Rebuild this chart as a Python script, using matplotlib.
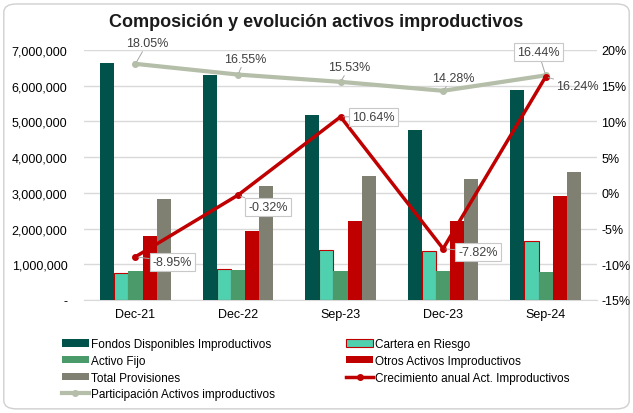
import numpy as np
import matplotlib
matplotlib.use("Agg")
import matplotlib.pyplot as plt
import matplotlib.ticker as ticker
from matplotlib.patches import FancyBboxPatch

plt.rcParams["font.family"] = ["Liberation Sans", "DejaVu Sans"]

# datos
periodos = ["Dec-21", "Dec-22", "Sep-23", "Dec-23", "Sep-24"]
fondos = [6640000, 6300000, 5190000, 4770000, 5880000]
cartera = [750000, 880000, 1400000, 1360000, 1650000]
activo_fijo = [800000, 840000, 800000, 810000, 780000]
otros = [1780000, 1930000, 2220000, 2200000, 2920000]
provisiones = [2840000, 3190000, 3480000, 3400000, 3580000]
participacion = [18.05, 16.55, 15.53, 14.28, 16.44]
crecimiento = [-8.95, -0.32, 10.64, -7.82, 16.24]

# offsets de etiquetas (pixeles)
off_part = [(12, 21), (7, 16), (9, 15), (10, 13), (-7, 23)]
off_crec = [(37, -5), (30, -12), (33, 0), (35, -3), (32, -9)]

fig = plt.figure(figsize=(6.33, 4.14), dpi=100)
fig.patches.append(FancyBboxPatch((0.006, 0.01), 0.988, 0.978, boxstyle="round,pad=0,rounding_size=0.02",
                                  transform=fig.transFigure, facecolor="white", edgecolor="#d0d0d0",
                                  linewidth=1, zorder=-10))
ax = fig.add_axes([0.133, 0.273, 0.81, 0.604])
ax.patch.set_alpha(0)

x = np.arange(len(periodos))
w = 0.138
series = [
    (fondos, "#00524a", "none", "Fondos Disponibles Improductivos"),
    (cartera, "#4fd1b0", "#c00000", "Cartera en Riesgo"),
    (activo_fijo, "#4a9a6a", "none", "Activo Fijo"),
    (otros, "#c00000", "none", "Otros Activos Improductivos"),
    (provisiones, "#7f7f72", "none", "Total Provisiones"),
]
handles = {}
for i, (vals, col, ec, lab) in enumerate(series):
    b = ax.bar(x + (i - 2) * w, vals, width=w, color=col, edgecolor=ec, linewidth=0.8, label=lab, zorder=3)
    handles[lab] = b

ax.set_xlim(-0.5, 4.5)
ax.set_ylim(0, 7000000)
ax.set_xticks(x)
ax.set_xticklabels(periodos, fontsize=9)
ax.yaxis.set_major_locator(ticker.MultipleLocator(1000000))
ax.yaxis.set_major_formatter(ticker.FuncFormatter(lambda v, p: "-" if v == 0 else "{:,.0f}".format(v)))
ax.tick_params(axis="y", labelsize=9, length=0, pad=12)
ax.tick_params(axis="x", length=0, pad=6)
ax.grid(axis="y", color="#d9d9d9", linewidth=1, zorder=0)
for s in ["top", "left", "right"]:
    ax.spines[s].set_visible(False)
ax.spines["bottom"].set_color("#d9d9d9")

ax2 = ax.twinx()
ax2.set_ylim(-15, 20)
ax2.yaxis.set_major_locator(ticker.MultipleLocator(5))
ax2.yaxis.set_major_formatter(ticker.FuncFormatter(lambda v, p: "{:.0f}%".format(v)))
ax2.tick_params(axis="y", labelsize=9, length=0, pad=3)
for s in ["top", "left", "right", "bottom"]:
    ax2.spines[s].set_visible(False)

l_part, = ax2.plot(x, participacion, color="#b4bea9", linewidth=3, marker="o", markersize=4,
                   label="Participación Activos improductivos", zorder=4)
l_crec, = ax2.plot(x, crecimiento, color="#c00000", linewidth=2.5, marker="o", markersize=4,
                   markerfacecolor="#c00000", label="Crecimiento anual Act. Improductivos", zorder=5)

for i, v in enumerate(participacion):
    box = dict(boxstyle="square,pad=0.25", fc="white", ec="#c8c8c8", lw=0.8) if i == 4 else None
    ax2.annotate("{:.2f}%".format(v), (x[i], v), xytext=off_part[i], textcoords="offset pixels",
                 ha="center", va="center", fontsize=9, color="#404040", bbox=box,
                 arrowprops=dict(arrowstyle="-", color="#a6a6a6", lw=0.7, shrinkA=0, shrinkB=2), zorder=6)
for i, v in enumerate(crecimiento):
    box = None if i == 4 else dict(boxstyle="square,pad=0.25", fc="white", ec="#c8c8c8", lw=0.8)
    ax2.annotate("{:.2f}%".format(v), (x[i], v), xytext=off_crec[i], textcoords="offset pixels",
                 ha="center", va="center", fontsize=9, color="#404040", bbox=box,
                 arrowprops=dict(arrowstyle="-", color="#a6a6a6", lw=0.7, shrinkA=0, shrinkB=2), zorder=6)

fig.text(0.5, 0.945, "Composición y evolución activos improductivos", ha="center", va="center",
         fontsize=13, fontweight="bold", color="#1a1a1a")

order = [handles["Fondos Disponibles Improductivos"], handles["Activo Fijo"], handles["Total Provisiones"], l_part,
         handles["Cartera en Riesgo"], handles["Otros Activos Improductivos"], l_crec]
fig.legend(handles=order, labels=[h.get_label() for h in order], ncol=2, loc="upper left",
           bbox_to_anchor=(0.088, 0.195), frameon=False, fontsize=8.5, handlelength=2.3, handleheight=0.6,
           handletextpad=0.2, labelspacing=0.4, columnspacing=6.0, borderpad=0)

fig.savefig("out.png", dpi=100)
